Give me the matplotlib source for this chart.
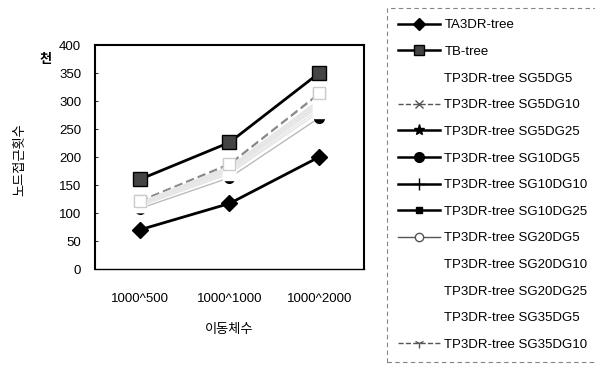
import matplotlib
matplotlib.use("Agg")
import matplotlib.pyplot as plt
from matplotlib.lines import Line2D

plt.rcParams['font.family'] = ['Liberation Sans', 'Noto Sans CJK KR', 'DejaVu Sans']

categories = ['1000^500', '1000^1000', '1000^2000']
ta3dr = [70, 117, 200]
tb = [160, 226, 350]

# TP3DR-tree variants (thousands of node accesses)
tp_names = ['SG5DG5', 'SG5DG10', 'SG5DG25', 'SG10DG5', 'SG10DG10', 'SG10DG25',
            'SG20DG5', 'SG20DG10', 'SG20DG25', 'SG35DG5', 'SG35DG10']
tp_values = [
    [118, 180, 300],
    [121, 186, 312],
    [112, 170, 280],
    [108, 163, 270],
    [115, 175, 290],
    [113, 172, 285],
    [118, 182, 298],
    [119, 183, 302],
    [117, 178, 295],
    [116, 177, 293],
    [122, 188, 314],
]

# legend style per variant: (linestyle, linewidth, color, marker, mfc, mec, ms)
tp_styles = [
    ('-', 0, 'white', '', 'white', 'white', 0),
    ('--', 1.0, '#555555', 'x', 'white', '#555555', 6),
    ('-', 1.8, 'black', '*', 'black', 'black', 8),
    ('-', 1.8, 'black', 'o', 'black', 'black', 7),
    ('-', 1.8, 'black', '+', 'black', 'black', 8),
    ('-', 1.8, 'black', 's', 'black', 'black', 5),
    ('-', 1.0, '#555555', 'o', 'white', '#555555', 6),
    ('-', 0, 'white', '', 'white', 'white', 0),
    ('-', 0, 'white', '', 'white', 'white', 0),
    ('-', 0, 'white', '', 'white', 'white', 0),
    ('--', 1.0, '#555555', '1', 'white', '#555555', 7),
]

fs = 9.5

fig = plt.figure(figsize=(5.95, 3.66), dpi=100)
ax = fig.add_axes([95 / 595, 1 - 269 / 366, 269 / 595, 224 / 366])

x = range(len(categories))

# the TP3DR-tree curves sit between the two reference trees, mostly washed out
for i, (name, vals) in enumerate(zip(tp_names, tp_values)):
    if name == 'SG10DG5':
        ax.plot(x, vals, color='#bbbbbb', lw=1, marker='o', ms=7,
                mfc='black', mec='black', zorder=2)
    elif name in ('SG5DG10', 'SG35DG10'):
        ax.plot(x, vals, color='#888888', lw=1, ls=(0, (6, 3)), marker='s', ms=9,
                mfc='white', mec='#cccccc', zorder=3)
    else:
        ax.plot(x, vals, color='#e6e6e6', lw=1, marker='s', ms=9,
                mfc='white', mec='white', zorder=3)

ax.plot(x, ta3dr, color='black', lw=2, marker='D', ms=8, zorder=5)
ax.plot(x, tb, color='black', lw=2, marker='s', ms=10, mfc='#444444',
        mec='black', zorder=5)

ax.set_xlim(-0.5, 2.5)
ax.set_ylim(0, 400)
ax.set_yticks(range(0, 401, 50))
ax.set_xticks(list(x))
ax.set_xticklabels(categories, fontsize=fs)
ax.tick_params(axis='y', labelsize=fs, direction='in', length=2, width=0.6, pad=10)
ax.tick_params(axis='x', length=0, pad=17)
for side in ax.spines.values():
    side.set_linewidth(1.5)
ax.spines['bottom'].set_linewidth(1.0)

ax.set_xlabel('이동체수', fontsize=fs, labelpad=14)
fig.text(20 / 595, 1 - 160 / 366, '노드접근횟수', rotation=90, fontsize=fs,
         ha='center', va='center')
fig.text(46 / 595, 1 - 60 / 366, '천', fontsize=fs, ha='center', va='center',
         fontweight='bold')

handles = [
    Line2D([], [], color='black', lw=1.8, marker='D', ms=6),
    Line2D([], [], color='black', lw=1.8, marker='s', ms=7, mfc='#444444'),
]
labels = ['TA3DR-tree', 'TB-tree']
for name, (ls, lw, c, m, mfc, mec, ms) in zip(tp_names, tp_styles):
    handles.append(Line2D([], [], ls=ls, lw=lw, color=c, marker=m, mfc=mfc,
                          mec=mec, ms=ms))
    labels.append('TP3DR-tree ' + name)

leg = fig.legend(handles, labels, loc='upper left',
                 bbox_to_anchor=(387 / 595, 1 - 8 / 366), fontsize=fs,
                 frameon=True, fancybox=False, labelspacing=1.09,
                 handlelength=3.2, handletextpad=0.3, borderpad=0.85,
                 borderaxespad=0)
leg.get_frame().set_edgecolor('#666666')
leg.get_frame().set_linestyle((0, (4, 3)))
leg.get_frame().set_linewidth(0.8)

fig.savefig('out.png', dpi=100)
